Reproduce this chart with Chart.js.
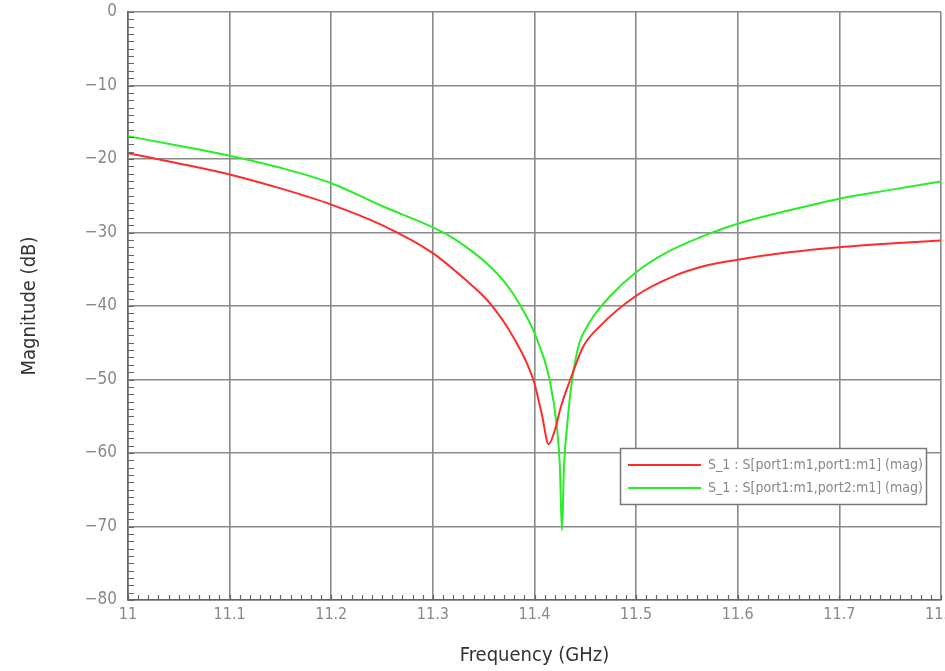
<!DOCTYPE html>
<html>
<head>
<meta charset="utf-8">
<script src="https://cdn.jsdelivr.net/npm/chart.js@4/dist/chart.umd.min.js"></script>
<style>
  html, body { margin: 0; padding: 0; background: #fff; }
  #wrap { width: 945px; height: 671px; }
</style>
</head>
<body>
<div id="wrap"><canvas id="plot" width="945" height="671"></canvas></div>
<script>
const FONT = '"DejaVu Sans Condensed", "Liberation Sans Narrow", "DejaVu Sans", sans-serif';

// S11 (red)
const freqRed = [11.0, 11.05, 11.1, 11.15, 11.2, 11.25, 11.3, 11.32, 11.336, 11.356, 11.379, 11.399,
  11.407, 11.414, 11.42, 11.426, 11.435, 11.448, 11.464, 11.5, 11.536, 11.569, 11.6, 11.65, 11.7, 11.75, 11.8];
const magRed = [-19.2, -20.6, -22.1, -24.0, -26.2, -29.0, -32.8, -35.0, -36.9, -39.6, -44.2, -50.1,
  -54.6, -58.8, -56.9, -53.7, -50.1, -45.5, -42.8, -38.6, -36.0, -34.5, -33.7, -32.7, -32.0, -31.5, -31.1];

// S21 (green)
const freqGreen = [11.0, 11.05, 11.1, 11.15, 11.2, 11.25, 11.3, 11.313, 11.336, 11.356, 11.372, 11.386,
  11.4, 11.415, 11.422, 11.425, 11.427, 11.429, 11.432, 11.437, 11.444, 11.451, 11.458, 11.474, 11.5, 11.529,
  11.575, 11.6, 11.65, 11.7, 11.75, 11.8];
const magGreen = [-16.9, -18.2, -19.55, -21.2, -23.3, -26.4, -29.3, -30.2, -32.3, -34.6, -37.0, -39.9,
  -43.7, -50.1, -56.4, -61.9, -70.5, -61.9, -56.4, -50.1, -45.1, -43.0, -41.4, -38.7, -35.4, -32.8,
  -30.0, -28.8, -27.0, -25.4, -24.2, -23.05];

const labels = ["S_1 : S[port1:m1,port1:m1] (mag)", "S_1 : S[port1:m1,port2:m1] (mag)"];
const xTicks = [11.0, 11.1, 11.2, 11.3, 11.4, 11.5, 11.6, 11.7, 11.8];
const yTicks = [0, -10, -20, -30, -40, -50, -60, -70, -80];

const pts = (xs, ys) => xs.map((x, i) => ({ x: x, y: ys[i] }));

// inward minor ticks on left / bottom axes
const minorTicks = {
  id: "minorTicks",
  afterDatasetsDraw(chart) {
    const { ctx, chartArea: a, scales: { x, y } } = chart;
    ctx.save();
    ctx.strokeStyle = "#666";
    ctx.lineWidth = 1.2;
    ctx.beginPath();
    for (let v = 0; v >= -80; v -= 1) {
      const py = Math.round(y.getPixelForValue(v)) + 0.5;
      ctx.moveTo(a.left, py);
      ctx.lineTo(a.left + 6, py);
    }
    for (let i = 0; i <= 80; i++) {
      const px = Math.round(x.getPixelForValue(11 + i * 0.01)) + 0.5;
      ctx.moveTo(px, a.bottom);
      ctx.lineTo(px, a.bottom - 5);
    }
    ctx.stroke();
    ctx.restore();
  }
};

// boxed legend inside the plot
const boxLegend = {
  id: "boxLegend",
  afterDatasetsDraw(chart) {
    const { ctx, chartArea: a } = chart;
    const left = a.left + 492, top = 448, w = 306, h = 56;
    ctx.save();
    ctx.fillStyle = "#fff";
    ctx.fillRect(left, top, w, h);
    ctx.strokeStyle = "#777";
    ctx.lineWidth = 1.5;
    ctx.strokeRect(left + 0.5, top + 0.5, w, h);
    ctx.font = "14px " + FONT;
    ctx.textBaseline = "middle";
    chart.data.datasets.forEach((ds, i) => {
      const ly = top + 17 + i * 23;
      ctx.strokeStyle = ds.borderColor;
      ctx.lineWidth = 2;
      ctx.beginPath();
      ctx.moveTo(left + 8, ly);
      ctx.lineTo(left + 81, ly);
      ctx.stroke();
      ctx.fillStyle = "#888";
      ctx.fillText(ds.label, left + 88, ly);
    });
    ctx.restore();
  }
};

new Chart(document.getElementById("plot"), {
  type: "line",
  data: {
    datasets: [
      { label: labels[0], data: pts(freqRed, magRed), borderColor: "#ff2b2b", borderWidth: 2 },
      { label: labels[1], data: pts(freqGreen, magGreen), borderColor: "#27ee27", borderWidth: 2 }
    ]
  },
  options: {
    responsive: false,
    animation: false,
    layout: { padding: { top: 12, right: 4, left: 0, bottom: 0 } },
    elements: {
      point: { radius: 0 },
      line: { cubicInterpolationMode: "monotone", fill: false }
    },
    plugins: { legend: { display: false }, tooltip: { enabled: false } },
    scales: {
      x: {
        type: "linear",
        min: 11, max: 11.8,
        afterBuildTicks: s => { s.ticks = xTicks.map(v => ({ value: v })); },
        afterFit: s => { s.height = 71; s.paddingLeft = 0; s.paddingRight = 0; },
        grid: { color: "#8a8a8a", lineWidth: 1.6, drawTicks: false },
        border: { color: "#666", width: 1.6 },
        ticks: {
          padding: 5,
          color: "#888",
          font: { family: FONT, size: 16 },
          callback: v => (Math.abs(v - 11) < 1e-9 ? "11" : v.toFixed(1))
        },
        title: {
          display: true,
          text: "Frequency (GHz)",
          color: "#333",
          font: { family: FONT, size: 20 },
          padding: { top: 0, bottom: 3 }
        }
      },
      y: {
        min: -80, max: 0,
        afterBuildTicks: s => { s.ticks = yTicks.map(v => ({ value: v })); },
        afterFit: s => { s.width = 128; s.paddingTop = 0; s.paddingBottom = 0; },
        grid: { color: "#8a8a8a", lineWidth: 1.6, drawTicks: false },
        border: { color: "#666", width: 1.6 },
        ticks: {
          padding: 11,
          color: "#888",
          font: { family: FONT, size: 17 },
          callback: v => (v === 0 ? "0" : "\u2212" + Math.abs(v))
        },
        title: {
          display: true,
          text: "Magnitude (dB)",
          color: "#333",
          font: { family: FONT, size: 20 },
          padding: { top: 18, bottom: 0 }
        }
      }
    }
  },
  plugins: [minorTicks, boxLegend]
});
</script>
</body>
</html>
